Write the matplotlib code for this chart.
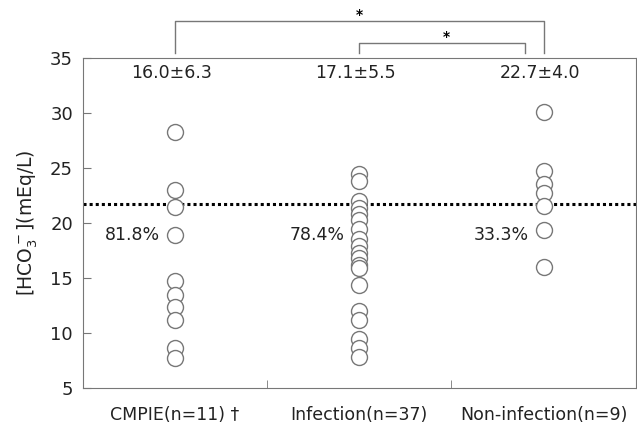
import numpy as np
import matplotlib
matplotlib.use('Agg')
import matplotlib.pyplot as plt

plt.rcParams['font.family'] = ['DejaVu Sans']

groups = ['CMPIE(n=11) \u2020', 'Infection(n=37)', 'Non-infection(n=9)']
cmpie = [28.3, 23.0, 21.5, 18.9, 14.7, 13.5, 12.4, 11.2, 8.6, 7.7]
infection = [24.5, 23.8, 22.0, 21.4, 20.8, 20.3, 19.5, 18.6, 17.9, 17.3,
             16.8, 16.2, 15.9, 14.4, 12.0, 11.2, 9.5, 8.6, 7.8]
non_infection = [30.1, 24.7, 23.6, 22.7, 21.6, 19.4, 16.0]
mean_sd = ['16.0\u00b16.3', '17.1\u00b15.5', '22.7\u00b14.0']
below_pct = ['81.8%', '78.4%', '33.3%']
cutoff = 21.7

edge = '#777777'
fs = 12.5
fig = plt.figure(figsize=(6.37, 4.25), dpi=100)
ax = fig.add_axes([0.130, 0.087, 0.868, 0.776])

for i, vals in enumerate([cmpie, infection, non_infection]):
    x = np.full(len(vals), i + 0.5)
    ax.plot(x, vals, 'o', ms=11.5, mfc='white', mec=edge, mew=1.0, zorder=3)
    ax.text(i + 0.48, 33.7, mean_sd[i], ha='center', va='center', fontsize=fs, color='#222222')
    ax.text(i + 0.42, 18.9, below_pct[i], ha='right', va='center', fontsize=fs, color='#222222')

ax.axhline(cutoff, color='black', ls=(0, (1, 1)), lw=2.2, zorder=2)

ax.set_xlim(0, 3)
ax.set_ylim(5, 35)
ax.set_yticks(range(5, 36, 5))
ax.set_xticks([0.5, 1.5, 2.5])
ax.set_xticklabels(groups, fontsize=fs, color='#222222')
ax.set_xticks([1, 2], minor=True)
ax.tick_params(axis='x', which='major', length=0, pad=13)
ax.tick_params(axis='x', which='minor', direction='in', length=6, color=edge)
ax.tick_params(axis='y', direction='in', length=6, color=edge, labelsize=13,
               labelcolor='#222222', pad=7)
ax.set_ylabel('[HCO$_3^-$](mEq/L)', fontsize=13.5, labelpad=7, color='#222222')
for s in ax.spines.values():
    s.set_color(edge)

# significance brackets above the groups
ax.plot([0.5, 0.5, 2.5, 2.5], [35.45, 38.4, 38.4, 35.45], color=edge, lw=1, clip_on=False)
ax.plot([1.5, 1.5, 2.4, 2.4], [35.45, 36.4, 36.4, 35.45], color=edge, lw=1, clip_on=False)
ax.text(1.5, 38.95, '*', ha='center', va='center', fontsize=10, fontweight='bold')
ax.text(1.97, 36.95, '*', ha='center', va='center', fontsize=10, fontweight='bold')

fig.savefig('out.png', dpi=100)
